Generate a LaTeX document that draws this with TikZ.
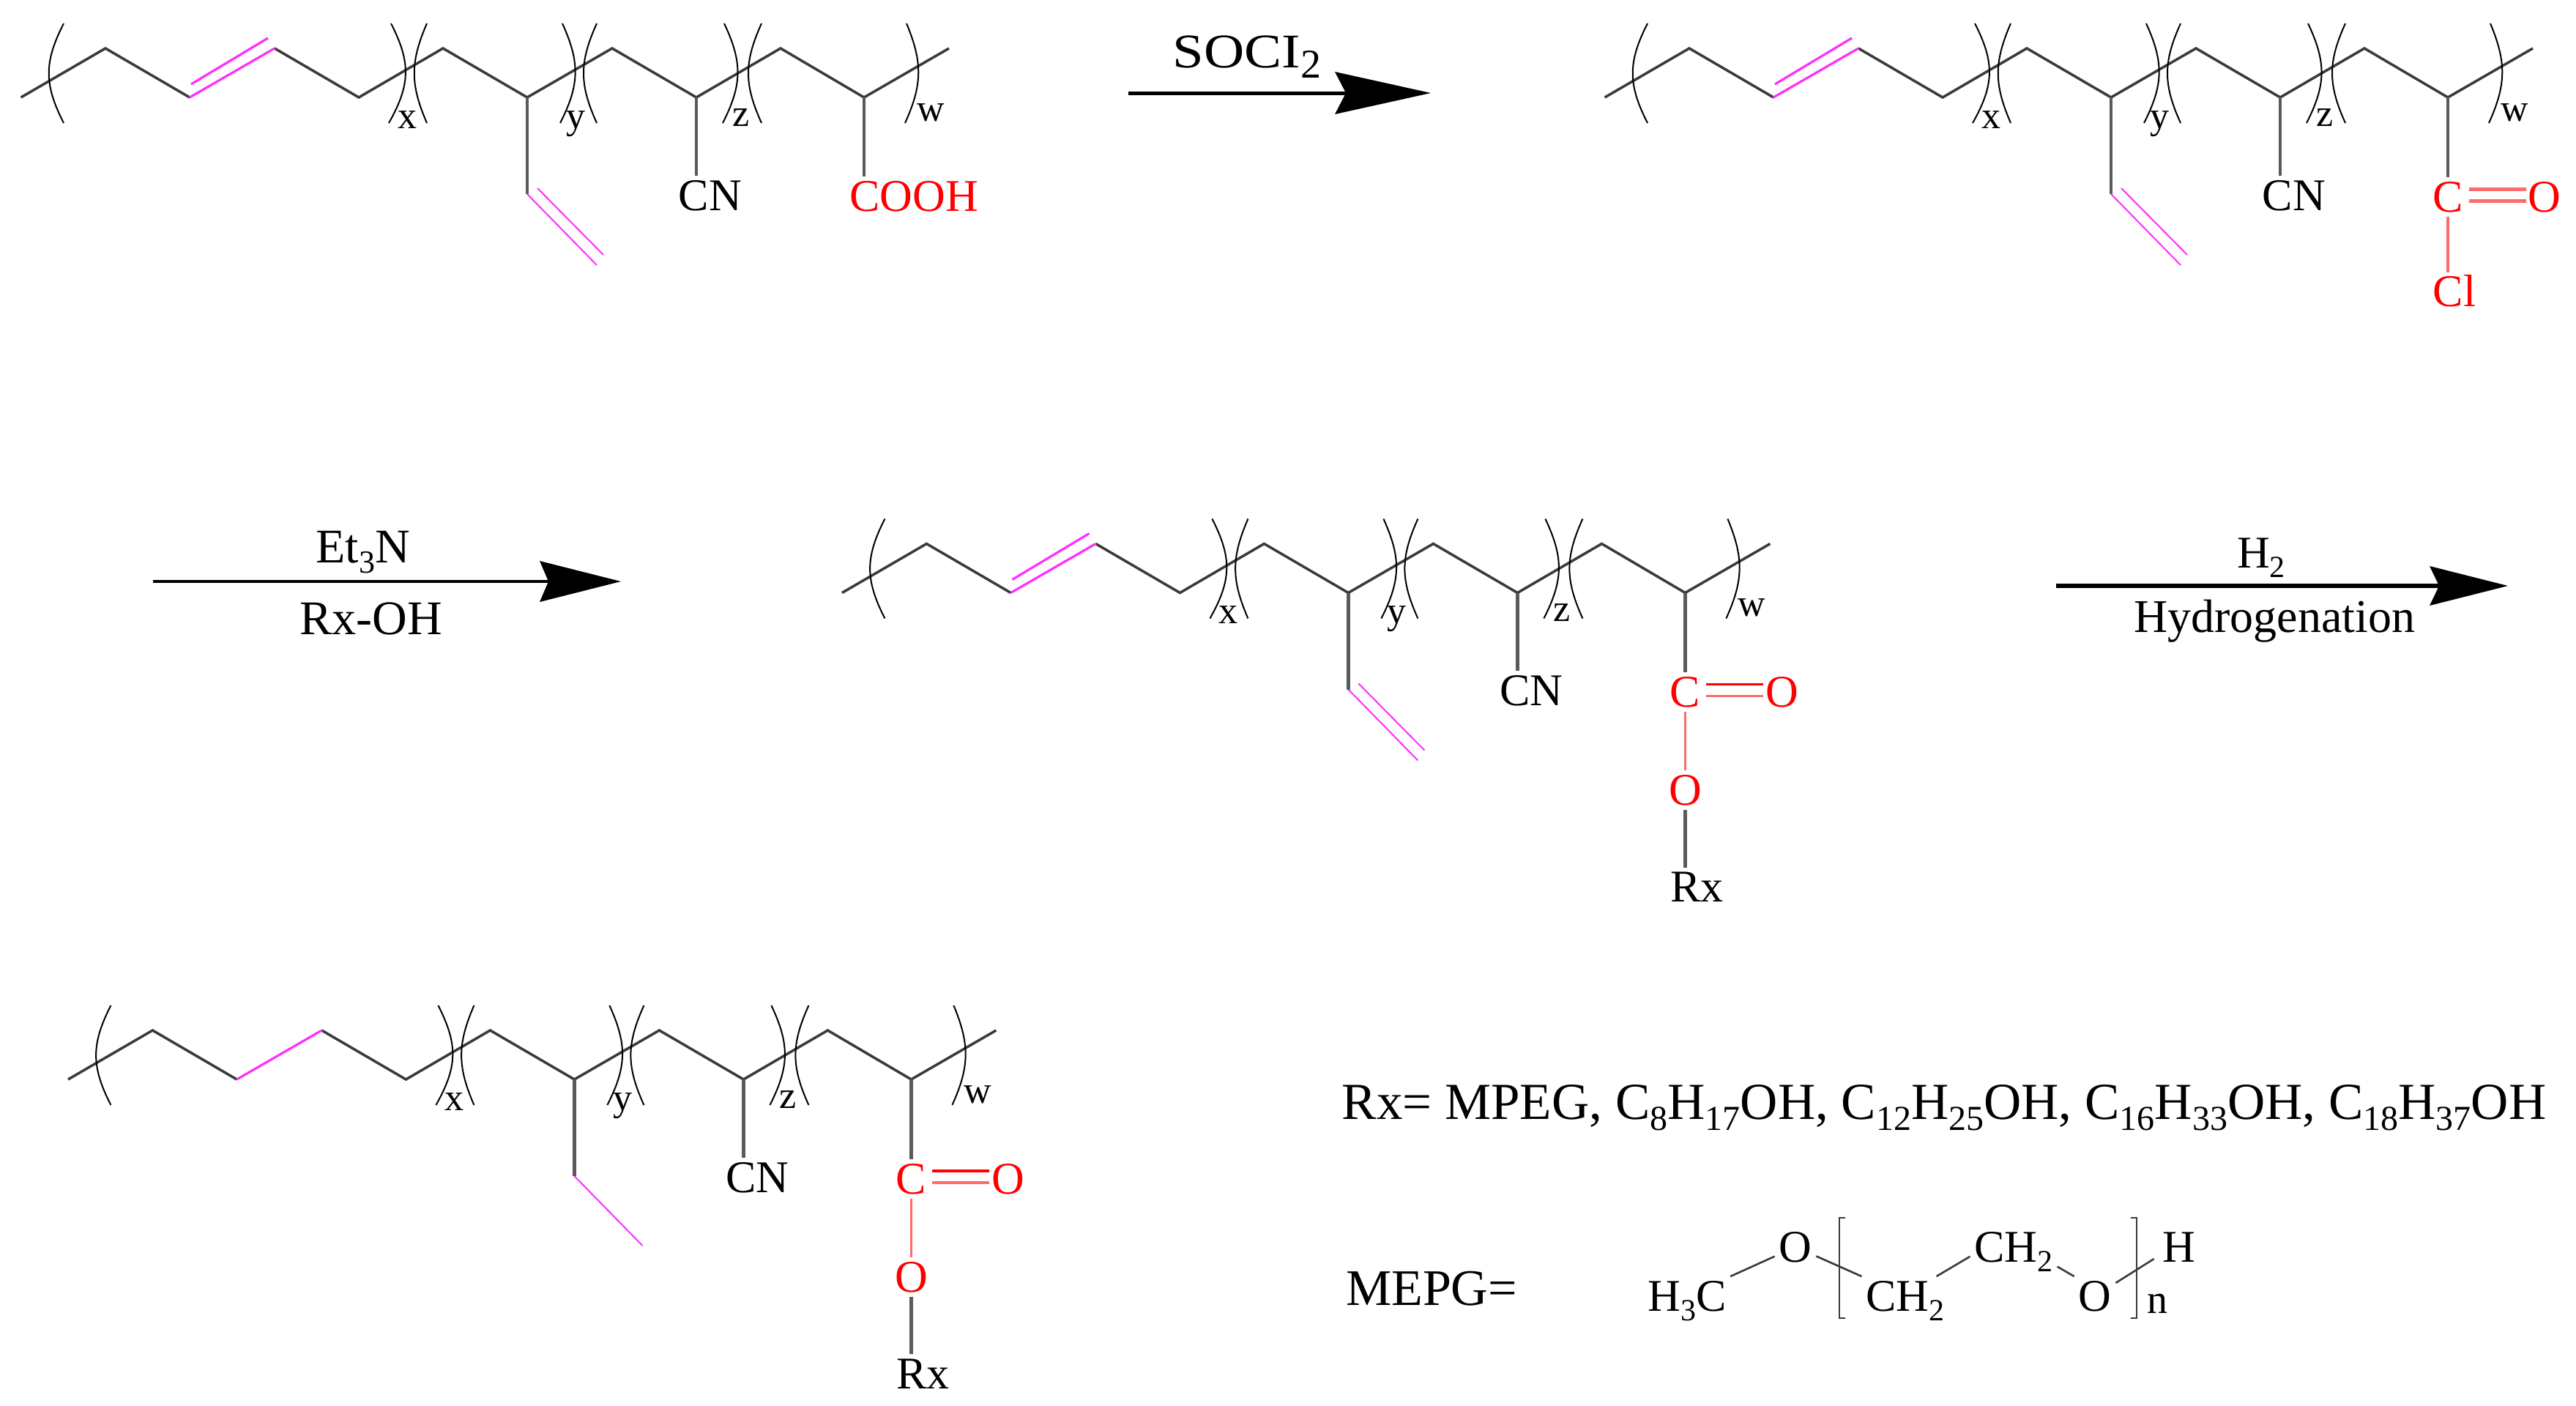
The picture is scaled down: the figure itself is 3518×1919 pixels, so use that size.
\documentclass[tikz,border=0pt]{standalone}
\usepackage{fontspec}
\setmainfont{Liberation Serif}
\newcommand{\setfs}[1]{\fontsize{#1}{#1}\selectfont}
\newcommand{\chsub}[2][20]{\smash{\raisebox{-0.22em}{\setfs{#1}#2}}}
\definecolor{bondgray}{HTML}{3A3A3A}
\definecolor{stemgray}{HTML}{5A5A5A}
\definecolor{vinylmag}{HTML}{FF2EFF}
\definecolor{softred}{HTML}{FF6A6A}
\tikzset{
  bb/.style={draw=bondgray,line width=1.75pt,line join=miter},
  stem/.style={draw=stemgray,line width=2.3pt},
  paren/.style={draw=black,line width=1pt},
  magthick/.style={draw=vinylmag,line width=1.6pt},
  magthin/.style={draw=vinylmag,line width=1pt},
  redup/.style={draw=red,line width=1.7pt},
  redlow/.style={draw=softred,line width=1.9pt},
  redsoft/.style={draw=softred,line width=2.5pt},
  softbond/.style={draw=softred,line width=1.6pt},
  atom/.style={inner sep=0pt,outer sep=3pt,anchor=base,font=\setfs{31}},
  redatom/.style={atom,text=red},
  idx/.style={inner sep=0pt,anchor=base,font=\setfs{26}},
  lbl/.style={inner sep=0pt,outer sep=0pt,anchor=base,font=\setfs{33}},
  mepg/.style={inner sep=0pt,outer sep=3pt,anchor=base,font=\setfs{31}},
  mbond/.style={draw=bondgray,line width=1.3pt},
  headfill/.style={fill=black,draw=none}
}
% backbone with substituent stems
\newcommand{\chainback}[3]{%
\begin{scope}[shift={(#2,#3)}]
\coordinate (#1a0) at (28.6,133);\coordinate (#1a1) at (144,66);
\coordinate (#1a2) at (259,133);\coordinate (#1a3) at (375,66);
\coordinate (#1a4) at (490,133);\coordinate (#1a5) at (605,66);
\coordinate (#1a6) at (720,133);\coordinate (#1a7) at (836,66);
\coordinate (#1a8) at (951,133);\coordinate (#1a9) at (1066,66);
\coordinate (#1a10) at (1180,133);\coordinate (#1a11) at (1296,66);
\coordinate (#1vb) at (720,265);
\draw[bb] (#1a0)--(#1a1)--(#1a2);
\draw[bb] (#1a3)--(#1a4)--(#1a5)--(#1a6)--(#1a7)--(#1a8)--(#1a9)--(#1a10)--(#1a11);
\draw[stem] (#1a6)--(#1vb);
\node[atom] (#1cn) at (970,287) {CN};
\draw[stem] (#1a8)--(#1a8 |- #1cn.north);
\draw[paren] (87,32) .. controls (60,85) and (60,115) .. (87,168);
\draw[paren] (534,32) .. controls (561,85) and (561,115) .. (531,168);
\draw[paren] (583,32) .. controls (560,85) and (560,115) .. (583,168);
\draw[paren] (768,32) .. controls (792,85) and (792,115) .. (765,168);
\draw[paren] (815,32) .. controls (791,85) and (791,115) .. (815,168);
\draw[paren] (989,32) .. controls (1014,85) and (1014,115) .. (987,168);
\draw[paren] (1040,32) .. controls (1016,85) and (1016,115) .. (1040,168);
\draw[paren] (1238,32) .. controls (1260,85) and (1260,115) .. (1236,168);
\node[idx] (#1x) at (556,175) {x};
\node[idx] (#1y) at (786,175) {y};
\node[idx] (#1z) at (1012,172) {z};
\node[idx] (#1w) at (1271,165) {w};
\end{scope}}
% magenta double bond in the backbone
\newcommand{\backdouble}[3]{%
\begin{scope}[shift={(#2,#3)}]
\draw[magthick] (#1a2)--(#1a3);
\coordinate (#1d1) at (261,115);\coordinate (#1d2) at (366,52);
\draw[magthick] (#1d1)--(#1d2);
\end{scope}}
% magenta vinyl group
\newcommand{\vinyl}[3]{%
\begin{scope}[shift={(#2,#3)}]
\coordinate (#1e1) at (815,362);\coordinate (#1e2) at (734,257);\coordinate (#1e3) at (824,348);
\draw[magthin] (#1vb)--(#1e1);
\draw[magthin] (#1e2)--(#1e3);
\end{scope}}
% C=O
\newcommand{\carbonyl}[5]{%
\begin{scope}[shift={(#2,#3)}]
\node[redatom] (#1c) at (1180,289) {C};
\node[redatom] (#1o) at (1312,289) {O};
\draw[stem] (#1a10)--(#1a10 |- #1c.north);
\coordinate (#1p1) at (1209,258);\coordinate (#1p2) at (1287,258);
\coordinate (#1q1) at (1209,274);\coordinate (#1q2) at (1287,274);
\draw[#4] (#1p1)--(#1p2);
\draw[#5] (#1q1)--(#1q2);
\end{scope}}
% ester O-Rx
\newcommand{\oxyrx}[3]{%
\begin{scope}[shift={(#2,#3)}]
\node[redatom] (#1oe) at (1180,423) {O};
\node[atom] (#1rx) at (1196,555) {Rx};
\draw[softbond] (#1c)--(#1oe);
\draw[stem] (#1oe)--(#1oe |- #1rx.north);
\end{scope}}
% reaction arrow
\newcommand{\rxn}[8]{%
\coordinate (#1s) at (#2,#3);\coordinate (#1n) at (#4,#3);
\coordinate (#1t) at (#6,#3);\coordinate (#1u) at (#5,#3-#7);\coordinate (#1l) at (#5,#3+#7);
\draw[black,line width=#8] (#1s)--(#1n);
\path[headfill] (#1t)--(#1u)--(#1n)--(#1l)--cycle;}
\begin{document}
\begin{tikzpicture}[x=0.5pt,y=-0.5pt]
\useasboundingbox (0,0) rectangle (3518,1919);
\fill[white] (0,0) rectangle (3518,1919);
% Chain 1
\chainback{ca}{0}{0}
\backdouble{ca}{0}{0}
\vinyl{ca}{0}{0}
\node[redatom] (cacooh) at (1248,288) {COOH};
\draw[stem] (caa10)--(caa10 |- cacooh.north);
% Arrow 1
\rxn{ar}{1541}{127}{1838}{1823}{1954}{29}{2.5pt}
\node[lbl] (arlabel) at (1703,92) {\scalebox{1.16}[1]{SOCI}\chsub[28]{2}};
% Chain 2
\chainback{cb}{2163}{0}
\backdouble{cb}{2163}{0}
\vinyl{cb}{2163}{0}
\carbonyl{cb}{2163}{0}{redsoft}{redsoft}
\begin{scope}[shift={(2163,0)}]
\node[redatom] (cbcl) at (1189,418) {Cl};
\coordinate (cbclt) at (1180,372);
\draw[softbond] (cbc)--(cbclt);
\end{scope}
% Arrow 2
\rxn{br}{208.5}{794}{749}{737}{848}{28}{2.2pt}
\node[lbl] (brtop) at (495.5,768) {Et\chsub[22]{3}N};
\node[lbl] (brbot) at (507,866) {Rx-OH};
% Chain 3
\chainback{cc}{1121.4}{676.5}
\backdouble{cc}{1121.4}{676.5}
\vinyl{cc}{1121.4}{676.5}
\carbonyl{cc}{1121.4}{676.5}{redup}{redlow}
\oxyrx{cc}{1121.4}{676.5}
% Arrow 3
\rxn{dr}{2808}{800}{3331}{3318}{3425}{27}{3pt}
\node[lbl,font=\setfs{31}] (drtop) at (3088,775) {H\chsub[21]{2}};
\node[lbl,font=\setfs{32}] (drbot) at (3106,863) {Hydrogenation};
% Chain 4
\chainback{cd}{64.4}{1341}
\draw[magthick] (cda2)--(cda3);
\begin{scope}[shift={(64.4,1341)}]
\coordinate (cde) at (813,360);
\draw[magthin] (cdvb)--(cde);
\end{scope}
\carbonyl{cd}{64.4}{1341}{redup}{redlow}
\oxyrx{cd}{64.4}{1341}
% Definitions
\node[lbl,font=\setfs{35.5}] (rxdef) at (2655,1528) {Rx= MPEG, C\chsub[24]{8}H\chsub[24]{17}OH, C\chsub[24]{12}H\chsub[24]{25}OH, C\chsub[24]{16}H\chsub[24]{33}OH, C\chsub[24]{18}H\chsub[24]{37}OH};
\node[lbl,font=\setfs{35}] (mepgdef) at (1955,1782) {MEPG=};
\node[mepg] (mh3c) at (2304,1790) {H\chsub[21]{3}C};
\node[mepg] (mo1) at (2452,1723) {O};
\node[mepg] (mcha) at (2602,1790) {CH\chsub[21]{2}};
\node[mepg] (mchb) at (2750,1723) {CH\chsub[21]{2}};
\node[mepg] (mo2) at (2861,1790) {O};
\node[mepg] (mh) at (2976,1723) {H};
\node[mepg,font=\setfs{28}] (mn) at (2946,1793) {n};
\draw[mbond] (mh3c)--(mo1);
\draw[mbond] (mo1)--(mcha.north west);
\draw[mbond] ([xshift=-8.5pt]mcha.north east)--([yshift=-6.5pt]mchb.west);
\draw[mbond] (mchb.south east)--(mo2.north west);
\draw[mbond] (mo2)--([shift={(-3pt,5pt)}]mh.south west);
\coordinate (mla) at (2520,1663);\coordinate (mlb) at (2512,1663);\coordinate (mlc) at (2512,1800);\coordinate (mld) at (2520,1800);
\coordinate (mra) at (2910,1663);\coordinate (mrb) at (2918,1663);\coordinate (mrc) at (2918,1800);\coordinate (mrd) at (2910,1800);
\draw[mbond] (mla)--(mlb)--(mlc)--(mld);
\draw[mbond] (mra)--(mrb)--(mrc)--(mrd);
\end{tikzpicture}
\end{document}
